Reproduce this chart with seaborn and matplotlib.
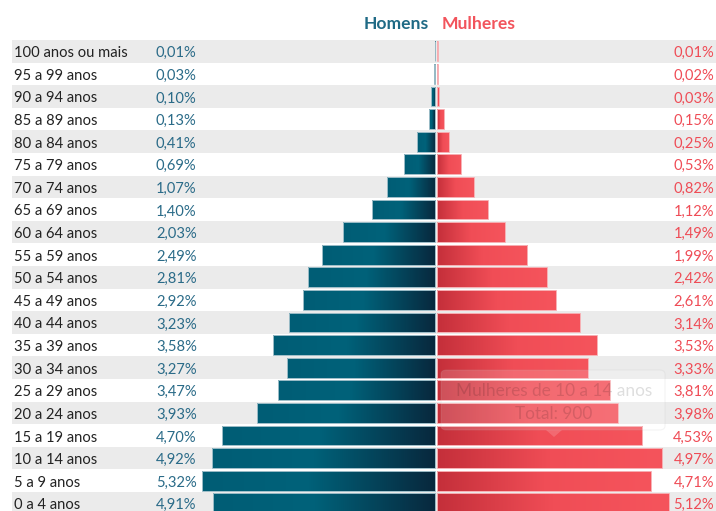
import matplotlib
matplotlib.use("Agg")
import matplotlib.pyplot as plt
import numpy as np
import seaborn as sns
from matplotlib.colors import LinearSegmentedColormap
from matplotlib.patches import FancyBboxPatch, Polygon

# faixas etárias, do topo para a base
faixas = [
    "100 anos ou mais", "95 a 99 anos", "90 a 94 anos", "85 a 89 anos",
    "80 a 84 anos", "75 a 79 anos", "70 a 74 anos", "65 a 69 anos",
    "60 a 64 anos", "55 a 59 anos", "50 a 54 anos", "45 a 49 anos",
    "40 a 44 anos", "35 a 39 anos", "30 a 34 anos", "25 a 29 anos",
    "20 a 24 anos", "15 a 19 anos", "10 a 14 anos", "5 a 9 anos", "0 a 4 anos",
]

homens_total = [1, 5, 18, 24, 74, 125, 194, 254, 368, 451, 509, 529,
                585, 648, 592, 628, 712, 851, 891, 931, 889]
mulheres_total = [1, 4, 5, 27, 45, 96, 148, 203, 270, 360, 438, 473,
                  569, 639, 603, 690, 721, 820, 900, 853, 927]

homens_pct = ["0,01%", "0,03%", "0,10%", "0,13%", "0,41%", "0,69%", "1,07%",
              "1,40%", "2,03%", "2,49%", "2,81%", "2,92%", "3,23%", "3,58%",
              "3,27%", "3,47%", "3,93%", "4,70%", "4,92%", "5,32%", "4,91%"]
mulheres_pct = ["0,01%", "0,02%", "0,03%", "0,15%", "0,25%", "0,53%", "0,82%",
                "1,12%", "1,49%", "1,99%", "2,42%", "2,61%", "3,14%", "3,53%",
                "3,33%", "3,81%", "3,98%", "4,53%", "4,97%", "4,71%", "5,12%"]

W, H = 716, 511
PX = 4.0          # pessoas por pixel
CENTER = 436.3    # pixel do eixo central
GAP = 1.15 * PX
ROW_Y0, ROW_H = 51.3, 22.6

sns.set_theme(style="white")
plt.rcParams["font.family"] = ["Lato", "DejaVu Sans"]

fig = plt.figure(figsize=(W / 100, H / 100), dpi=100)
ax = fig.add_axes([0, 0, 1, 1])

# faixas cinza alternadas
for i in range(0, len(faixas), 2):
    ax.axhspan(i - 0.5, i + 0.5, xmin=12 / W, xmax=1, color="#ebebeb", lw=0, zorder=0)

n0 = len(ax.patches)
sns.barplot(x=[-v for v in homens_total], y=faixas, orient="h", width=0.88,
            color="#005f78", ax=ax)
n1 = len(ax.patches)
men_patches = list(ax.patches[n0:n1])
sns.barplot(x=mulheres_total, y=faixas, orient="h", width=0.88,
            color="#e8444d", ax=ax)
women_patches = list(ax.patches[n1:])

# gradientes: esquerda -> direita
cmap_h = LinearSegmentedColormap.from_list(
    "homens", [(0, "#005d75"), (0.45, "#00627a"), (1, "#08283d")])
cmap_m = LinearSegmentedColormap.from_list(
    "mulheres", [(0, "#c42f3a"), (0.5, "#f04d56"), (1, "#f5545c")])
grad = np.linspace(0, 1, 256).reshape(1, -1)


def paint(patch, cmap, edge, shift):
    patch.set_x(patch.get_x() + shift)
    xa, xb = patch.get_x(), patch.get_x() + patch.get_width()
    ya, yb = patch.get_y(), patch.get_y() + patch.get_height()
    x0, x1 = min(xa, xb), max(xa, xb)
    y0, y1 = min(ya, yb), max(ya, yb)
    im = ax.imshow(grad, cmap=cmap, aspect="auto", extent=[x0, x1, y1, y0],
                   origin="upper", zorder=2, interpolation="bilinear")
    im.set_clip_path(patch)
    patch.set_facecolor("none")
    patch.set_edgecolor(edge)
    patch.set_linewidth(0.7)
    patch.set_zorder(3)


for p in men_patches:
    paint(p, cmap_h, "#9dbdc8", -GAP)
for p in women_patches:
    paint(p, cmap_m, "#f7b0b4", GAP)

ax.set_xlim(-CENTER * PX, (W - CENTER) * PX)
ax.set_ylim((H - ROW_Y0) / ROW_H, -ROW_Y0 / ROW_H)
ax.set_axis_off()

tr = ax.get_yaxis_transform()
dy = 2 / ROW_H
for i, nome in enumerate(faixas):
    ax.text(14 / W, i + dy, nome, transform=tr, ha="left", va="center",
            fontsize=10.6, color="#222222")
    ax.text(156 / W, i + dy, homens_pct[i], transform=tr, ha="left", va="center",
            fontsize=10.6, color="#2a6b88")
    ax.text(714 / W, i + dy, mulheres_pct[i], transform=tr, ha="right", va="center",
            fontsize=10.6, color="#ef4c56")

# cabeçalho
fig.text(429 / W, 1 - 24 / H, "Homens", ha="right", va="center",
         fontsize=12.6, fontweight="bold", color="#1f6a85")
fig.text(442 / W, 1 - 24 / H, "Mulheres", ha="left", va="center",
         fontsize=12.6, fontweight="bold", color="#f2545c")

# tooltip esmaecido
box = FancyBboxPatch((441 / W, 1 - 430 / H), 224 / W, 60 / H,
                     boxstyle="round,pad=0,rounding_size=0.008",
                     transform=fig.transFigure, facecolor="white", alpha=0.16,
                     edgecolor="#bbbbbb", lw=0.8, zorder=5)
fig.add_artist(box)
tri = Polygon([(546 / W, 1 - 430 / H), (562 / W, 1 - 430 / H), (554 / W, 1 - 437 / H)],
              closed=True, transform=fig.transFigure, facecolor="white",
              alpha=0.16, edgecolor="none", zorder=5)
fig.add_artist(tri)
fig.text(554 / W, 1 - 391 / H, "Mulheres de 10 a 14 anos", ha="center", va="center",
         fontsize=12.4, color="#000000", alpha=0.13, zorder=6)
fig.text(554 / W, 1 - 414 / H, "Total: 900", ha="center", va="center",
         fontsize=12.4, color="#000000", alpha=0.13, zorder=6)

fig.savefig("out.png", dpi=100)
plt.close(fig)
